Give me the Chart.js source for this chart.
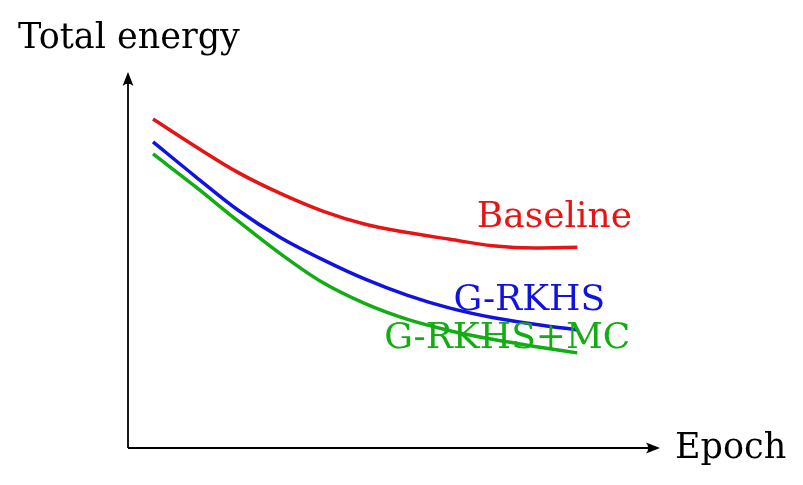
<!DOCTYPE html>
<html>
<head>
<meta charset="utf-8">
<script src="https://cdn.jsdelivr.net/npm/chart.js@4"></script>
<style>
  html, body { margin: 0; padding: 0; background: #fff; }
  #wrap { width: 803px; height: 485px; position: relative; }
</style>
</head>
<body>
<div id="wrap"><canvas id="c"></canvas></div>
<script>
// Epochs and energy values (arbitrary units).
const epochs = [0, 2, 4, 6, 8, 10, 12, 14, 16, 18, 20];
const baseline = [8.75, 8.02, 7.33, 6.77, 6.30, 5.95, 5.73, 5.55, 5.38, 5.32, 5.34];
const grkhs = [8.14, 7.22, 6.33, 5.60, 5.01, 4.49, 4.06, 3.72, 3.47, 3.29, 3.14];
const grkhsMc = [7.82, 6.95, 6.04, 5.17, 4.40, 3.84, 3.42, 3.12, 2.89, 2.70, 2.53];

const seriesNames = ['Baseline', 'G-RKHS', 'G-RKHS+MC'];
const seriesColors = ['#e61414', '#1212e0', '#12ad12'];
const xTitle = 'Epoch';
const yTitle = 'Total energy';

const FONT = '"DejaVu Serif", "Liberation Serif", serif';

// label anchors (centre of text, baseline) in epoch / energy units
const labelSpots = [
    { name: seriesNames[0], x: 18.92, y: 5.88 },
    { name: seriesNames[1], x: 17.74, y: 3.67 },
    { name: seriesNames[2], x: 16.70, y: 2.66 },
];

const pts = arr => epochs.map((e, i) => ({ x: e, y: arr[i] }));

const axesPlugin = {
    id: 'axesArrows',
    afterDraw(chart) {
        const { ctx, chartArea: a } = chart;
        ctx.save();
        ctx.strokeStyle = '#000';
        ctx.fillStyle = '#000';
        ctx.lineWidth = 1.8;
        ctx.beginPath();
        ctx.moveTo(a.left, a.bottom);
        ctx.lineTo(a.left, a.top + 6);
        ctx.moveTo(a.left, a.bottom);
        ctx.lineTo(a.right - 6, a.bottom);
        ctx.stroke();
        const head = (x, y, ang) => {
            ctx.save();
            ctx.translate(x, y);
            ctx.rotate(ang);
            ctx.beginPath();
            ctx.moveTo(0, 0);
            ctx.lineTo(-14, -5.5);
            ctx.quadraticCurveTo(-9.5, 0, -14, 5.5);
            ctx.closePath();
            ctx.fill();
            ctx.restore();
        };
        head(a.left, a.top, -Math.PI / 2);
        head(a.right, a.bottom, 0);

        ctx.font = `35px ${FONT}`;
        ctx.textBaseline = 'alphabetic';
        ctx.textAlign = 'left';
        ctx.fillText(yTitle, 18, 48);
        ctx.fillText(xTitle, a.right + 15, a.bottom + 10);

        ctx.font = `36px ${FONT}`;
        const xs = chart.scales.x, ys = chart.scales.y;
        labelSpots.forEach((s, i) => {
            ctx.fillStyle = seriesColors[i];
            ctx.textAlign = 'center';
            ctx.fillText(s.name, xs.getPixelForValue(s.x), ys.getPixelForValue(s.y));
        });
        ctx.restore();
    }
};

new Chart(document.getElementById('c'), {
    type: 'line',
    data: {
        datasets: [baseline, grkhs, grkhsMc].map((arr, i) => ({
            label: seriesNames[i],
            data: pts(arr),
            borderColor: seriesColors[i],
            borderWidth: 3.5,
            pointRadius: 0,
            cubicInterpolationMode: 'monotone',
            fill: false,
        })),
    },
    options: {
        responsive: true, maintainAspectRatio: false, animation: false,
        layout: { padding: { left: 128, right: 143, top: 72, bottom: 37 } },
        plugins: { legend: { display: false }, tooltip: { enabled: false } },
        scales: {
            x: { type: 'linear', min: -1.18, max: 23.9, display: false },
            y: { min: 0, max: 10, display: false },
        },
    },
    plugins: [axesPlugin],
});
</script>
</body>
</html>
